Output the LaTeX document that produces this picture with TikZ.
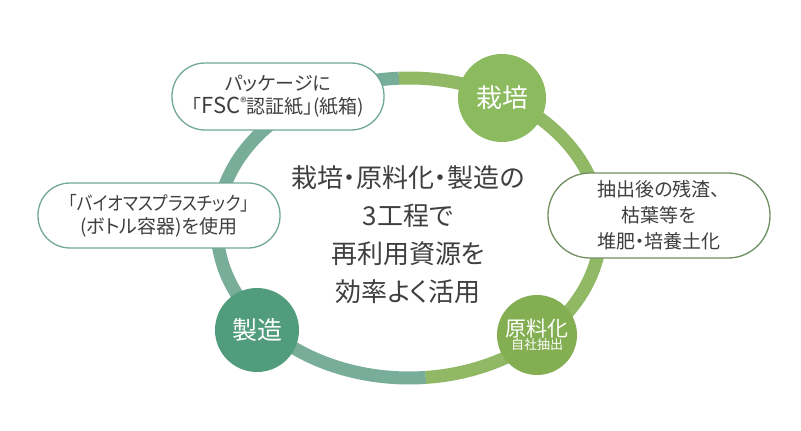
\documentclass[tikz,border=0pt]{standalone}
\usepackage{fontspec}
\setmainfont{Noto Sans CJK JP}[RawFeature={+palt}]
\usetikzlibrary{positioning}

\definecolor{ringteal}{HTML}{6AA58E}
\definecolor{ringgreen}{HTML}{86B155}
\definecolor{dotteal}{HTML}{519C7D}
\definecolor{dotgreen}{HTML}{8CBA5E}
\definecolor{dotolive}{HTML}{83AF52}
\definecolor{boxteal}{HTML}{72A896}
\definecolor{boxolive}{HTML}{6F8F60}
\definecolor{txt}{HTML}{3F3F3F}

\begin{document}
\begin{tikzpicture}[x=1pt, y=-1pt,
  ring/.style={line width=13pt, opacity=0.9},
  stage/.style={circle, inner sep=0pt, minimum size=#1, text=white, align=center},
  note/.style={draw=boxteal, line width=1.3pt, fill=white, text=txt, align=center,
    inner sep=0pt, font=\fontsize{19}{23}\selectfont},
]
\useasboundingbox[fill=white] (0,0) rectangle (801,431);

% ---------------- ring: teal half and green half ----------------
\draw[ring, ringteal] plot[domain=93:275, samples=60, smooth]
  ({409+192*cos(\x)}, {228-150*sin(\x)});
\draw[ring, ringgreen] plot[domain=-85:93, samples=60, smooth]
  ({409+192*cos(\x)}, {228-150*sin(\x)});

% ---------------- the three stages ----------------
\node[stage=88pt, fill=dotgreen, font=\fontsize{26}{26}\selectfont] (saibai) at (502,98) {栽培};
\node[stage=84pt, fill=dotteal, font=\fontsize{25}{25}\selectfont] (seizo) at (257,330) {製造};
\node[stage=80pt, fill=dotolive] (genryo) at (537,335)
  {{\fontsize{21}{21}\selectfont 原料化}\\[-1pt]{\fontsize{13}{13}\selectfont 自社抽出}};

% ---------------- notes ----------------
\node[note, minimum width=212pt, minimum height=67pt, rounded corners=33pt] (pkg) at (278,96.5)
  {パッケージに\\「{\fontsize{22}{22}\selectfont FSC}{\fontsize{13}{13}\selectfont\raisebox{6pt}{®}}認証紙」(紙箱)};
\node[note, minimum width=242pt, minimum height=65pt, rounded corners=32pt] (bio) at (159,215.5)
  {\scalebox{0.88}[1]{「バイオマスプラスチック」}\\(ボトル容器)を使用};
\node[note, draw=boxolive, minimum width=222pt, minimum height=85pt, rounded corners=42pt,
  font=\fontsize{19}{26}\selectfont] (zansa) at (659,215.5)
  {抽出後の残渣、\\枯葉等を\\堆肥・培養土化};

% ---------------- centre message ----------------
\node[text=txt, align=center, font=\fontsize{26}{38}\selectfont] (msg) at (408,234.5)
  {栽培・原料化・製造の\\3工程で\\再利用資源を\\効率よく活用};
\end{tikzpicture}
\end{document}
